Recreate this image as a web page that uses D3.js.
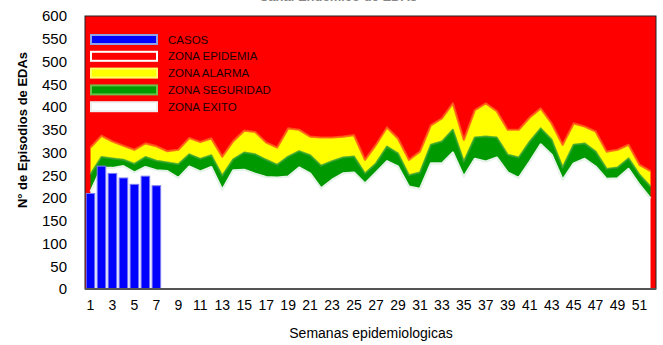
<!DOCTYPE html>
<html>
<head>
<meta charset="utf-8">
<script src="https://cdn.jsdelivr.net/npm/d3@7"></script>
<style>
  body { margin: 0; background: #fff; }
  text { font-family: "Liberation Sans", Arial, sans-serif; }
</style>
</head>
<body>
<svg id="chart" width="663" height="345"></svg>
<script>
// Semanas epidemiológicas 1..52
const semanas = d3.range(1, 53);

// Casos observados (semanas 1-7)
const casos = [210, 270, 254, 244, 230, 248, 227];

// Límite superior de cada zona del canal endémico
const zonaExito = [214, 266, 266, 270, 256, 268, 261, 259, 244, 269, 258, 268, 218,
  261, 262, 253, 246, 245, 247, 267, 254, 221, 240, 254, 256, 232,
  256, 281, 269, 225, 220, 276, 276, 300, 247, 286, 280, 289, 256,
  244, 280, 318, 295, 240, 276, 286, 269, 242, 243, 264, 229, 199];
const zonaSeguridad = [252, 290, 287, 284, 275, 290, 282, 278, 274, 296, 286, 294, 249,
  285, 300, 296, 284, 273, 291, 303, 294, 271, 281, 289, 291, 254,
  276, 313, 298, 250, 256, 317, 324, 350, 280, 333, 335, 333, 295,
  289, 324, 353, 328, 267, 317, 320, 302, 264, 267, 287, 251, 225];
const zonaAlarma = [311, 337, 324, 315, 306, 320, 314, 303, 306, 332, 323, 331, 291,
  325, 348, 345, 322, 311, 353, 350, 335, 333, 333, 335, 338, 284,
  317, 355, 331, 284, 302, 360, 375, 408, 328, 393, 408, 391, 350,
  350, 377, 397, 364, 317, 364, 357, 346, 302, 306, 317, 273, 259];

const yTicks = d3.range(0, 601, 50);
const xTicks = semanas.filter(w => w % 2 === 1);

const legendItems = [
  { label: "CASOS", fill: "#0000ff", stroke: "#8fa2e6" },
  { label: "ZONA EPIDEMIA", fill: "#ff0000", stroke: "#ffffff" },
  { label: "ZONA ALARMA", fill: "#ffff00", stroke: "#ffff66" },
  { label: "ZONA SEGURIDAD", fill: "#009900", stroke: "#6cc04a" },
  { label: "ZONA EXITO", fill: "#ffffff", stroke: "#eeeeee" }
];

const svg = d3.select("#chart");
const plot = { left: 85, right: 656, top: 16, bottom: 289 };

const x = d3.scaleBand()
  .domain(semanas)
  .range([plot.left, plot.right])
  .paddingInner(0.22)
  .paddingOuter(0.11);
const xc = w => x(w) + x.bandwidth() / 2;

const y = d3.scaleLinear().domain([0, 600]).range([plot.bottom, plot.top]);

// Title (sits above the frame, mostly outside the page)
svg.append("text")
  .attr("x", 338).attr("y", 0.5)
  .attr("text-anchor", "middle")
  .attr("font-size", 13).attr("font-weight", "bold")
  .attr("fill", "#888")
  .text("Canal Endémico de EDAs");

// Zona epidemia: plot background
svg.append("rect")
  .attr("x", plot.left).attr("y", plot.top)
  .attr("width", plot.right - plot.left).attr("height", plot.bottom - plot.top)
  .attr("fill", "#ff0000");

const rows = semanas.map((w, i) => ({
  w, exito: zonaExito[i], seguridad: zonaSeguridad[i], alarma: zonaAlarma[i]
}));

const band = (lo, hi) => d3.area()
  .x(d => xc(d.w))
  .y0(d => lo(d))
  .y1(d => hi(d));

// Zona alarma
svg.append("path").datum(rows)
  .attr("fill", "#ffff00")
  .attr("d", band(d => y(d.seguridad), d => y(d.alarma)));
// Zona seguridad
svg.append("path").datum(rows)
  .attr("fill", "#009900")
  .attr("d", band(d => y(d.exito), d => y(d.seguridad)));
// Zona éxito
svg.append("path").datum(rows)
  .attr("fill", "#ffffff")
  .attr("d", band(d => y(0), d => y(d.exito)));

// Soft edges along each zone boundary
const edge = key => d3.line().x(d => xc(d.w)).y(d => y(d[key]));
svg.append("path").datum(rows)
  .attr("fill", "none").attr("stroke", "#ff5a1a").attr("stroke-width", 2.2)
  .attr("stroke-linejoin", "round").attr("stroke-opacity", 0.85)
  .attr("d", edge("alarma"));
svg.append("path").datum(rows)
  .attr("fill", "none").attr("stroke", "#33a833").attr("stroke-width", 2)
  .attr("stroke-linejoin", "round").attr("stroke-opacity", 0.8)
  .attr("d", edge("seguridad"));
svg.append("path").datum(rows)
  .attr("fill", "none").attr("stroke", "#e6f3e8").attr("stroke-width", 2.2)
  .attr("stroke-linejoin", "round")
  .attr("d", edge("exito"));

// Casos
svg.append("g").selectAll("rect")
  .data(casos.map((v, i) => ({ w: semanas[i], v })))
  .join("rect")
  .attr("x", d => x(d.w))
  .attr("y", d => y(d.v))
  .attr("width", x.bandwidth())
  .attr("height", d => y(0) - y(d.v))
  .attr("fill", "#0000ff")
  .attr("stroke", "#7d7df5")
  .attr("stroke-width", 1);

// Frame
svg.append("rect")
  .attr("x", plot.left).attr("y", plot.top)
  .attr("width", plot.right - plot.left).attr("height", plot.bottom - plot.top)
  .attr("fill", "none").attr("stroke", "#222").attr("stroke-width", 1);
svg.append("line")
  .attr("x1", plot.left).attr("x2", plot.right)
  .attr("y1", plot.bottom).attr("y2", plot.bottom)
  .attr("stroke", "#555").attr("stroke-width", 2);

// Axes
const yAxis = svg.append("g")
  .attr("transform", `translate(${plot.left},0)`)
  .call(d3.axisLeft(y).tickValues(yTicks).tickSize(0).tickPadding(18));
yAxis.select(".domain").remove();
yAxis.selectAll("text").attr("font-size", 15).attr("fill", "#000")
  .attr("font-family", "Liberation Sans, Arial, sans-serif");

const xAxis = svg.append("g")
  .attr("transform", `translate(0,${plot.bottom})`)
  .call(d3.axisBottom(x).tickValues(xTicks).tickSize(0).tickPadding(11));
xAxis.select(".domain").remove();
xAxis.selectAll("text").attr("font-size", 14).attr("fill", "#000")
  .attr("font-family", "Liberation Sans, Arial, sans-serif");

// Axis titles
svg.append("text")
  .attr("x", 371).attr("y", 338)
  .attr("text-anchor", "middle")
  .attr("font-size", 14).attr("fill", "#000")
  .text("Semanas epidemiologicas");
svg.append("text")
  .attr("transform", "translate(27,130) rotate(-90)")
  .attr("text-anchor", "middle")
  .attr("font-size", 13).attr("font-weight", "bold").attr("fill", "#000")
  .text("N° de Episodios de EDAs");

// Legend
const lg = svg.append("g").selectAll("g")
  .data(legendItems)
  .join("g")
  .attr("transform", (d, i) => `translate(90,${34 + i * 16.8})`);
lg.append("rect")
  .attr("x", 1).attr("y", 1).attr("width", 66).attr("height", 9)
  .attr("fill", d => d.fill).attr("stroke", d => d.stroke).attr("stroke-width", 2);
lg.append("text")
  .attr("x", 78).attr("y", 9.5)
  .attr("font-size", 11.5).attr("fill", "#1a0000")
  .text(d => d.label);
</script>
</body>
</html>
